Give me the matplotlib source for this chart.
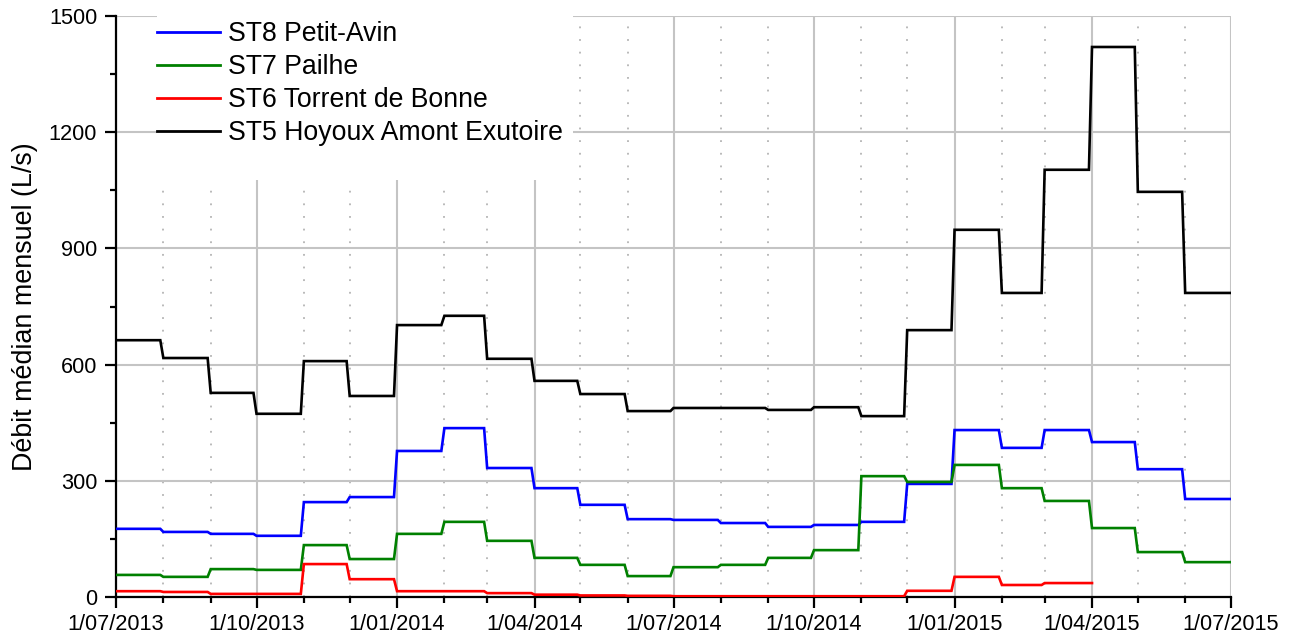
import numpy as np
import pandas as pd
import matplotlib
matplotlib.use("Agg")
import matplotlib.pyplot as plt
import matplotlib.dates as mdates
from matplotlib.patches import Rectangle
from matplotlib.ticker import MultipleLocator, FixedLocator

plt.rcParams["font.family"] = ["Liberation Sans", "DejaVu Sans"]

# ---------------------------------------------------------------
# Data: monthly median discharge (L/s), July 2013 -> June 2015
# ---------------------------------------------------------------
months = pd.date_range("2013-07-01", "2015-06-01", freq="MS")
end_date = pd.Timestamp("2015-07-01")

st8_petit_avin = [176, 168, 163, 158, 245, 258, 377, 436, 333, 281, 238, 201,
                  199, 191, 181, 186, 194, 292, 431, 385, 431, 400, 330, 253]
st7_pailhe = [57, 52, 72, 70, 134, 98, 163, 194, 145, 101, 83, 54,
              77, 83, 101, 121, 312, 297, 341, 281, 248, 178, 116, 90]
st6_torrent = [15, 13, 8, 8, 85, 46, 15, 15, 10, 6, 4, 3,
               2, 2, 2, 2, 2, 16, 52, 31, 36]
st5_hoyoux = [663, 617, 527, 473, 609, 519, 702, 726, 615, 558, 524, 480,
              488, 488, 483, 490, 467, 689, 948, 785, 1103, 1420, 1046, 785]

series = [
    ("ST8 Petit-Avin", st8_petit_avin, "#0000ff"),
    ("ST7 Pailhe", st7_pailhe, "#008000"),
    ("ST6 Torrent de Bonne", st6_torrent, "#ff0000"),
    ("ST5 Hoyoux Amont Exutoire", st5_hoyoux, "#000000"),
]

quarter_ticks = pd.date_range("2013-07-01", "2015-07-01", freq="3MS")
quarter_labels = ["1/07/2013", "1/10/2013", "1/01/2014", "1/04/2014", "1/07/2014",
                  "1/10/2014", "1/01/2015", "1/04/2015", "1/07/2015"]


def month_steps(values):
    """Each monthly value held from the 1st until just before the next month."""
    starts = list(months[:len(values)])
    bounds = starts + [starts[-1] + pd.offsets.MonthBegin(1)]
    xs, ys = [], []
    for i, v in enumerate(values):
        last = i == len(values) - 1
        xs += [bounds[i], bounds[i + 1] - pd.Timedelta(days=0 if last else 2)]
        ys += [v, v]
    return xs, ys


# ---------------------------------------------------------------
# Plot
# ---------------------------------------------------------------
fig = plt.figure(figsize=(12.98, 6.40), dpi=100, facecolor="white")
ax = fig.add_axes([116 / 1298, 1 - 597 / 640, 1115 / 1298, 581 / 640])

for label, vals, color in series:
    xs, ys = month_steps(vals)
    ax.plot(xs, ys, color=color, linewidth=1.9, label=label, zorder=3,
            solid_joinstyle="miter")

ax.set_xlim(months[0], end_date)
ax.set_ylim(0, 1500)

# x axis: quarterly major, monthly minor
ax.xaxis.set_major_locator(FixedLocator(mdates.date2num(quarter_ticks)))
ax.xaxis.set_minor_locator(mdates.MonthLocator())
ax.set_xticklabels(quarter_labels)
ax.yaxis.set_major_locator(MultipleLocator(300))
ax.yaxis.set_minor_locator(MultipleLocator(150))

ax.tick_params(axis="both", which="major", direction="out", length=8, width=1.6,
               labelsize=15.7, colors="black")
ax.tick_params(axis="x", which="major", pad=4.5)
ax.tick_params(axis="y", which="major", pad=5.5)
ax.tick_params(axis="both", which="minor", direction="out", length=4.5, width=1.6)

for side in ("top", "right"):
    ax.spines[side].set_visible(False)
for side in ("left", "bottom"):
    ax.spines[side].set_linewidth(1.6)

ax.grid(True, which="major", color="#c4c4c4", linewidth=1.5)
ax.grid(True, which="minor", axis="x", color="#b4b4b4", linewidth=1.3,
        linestyle=(0, (1, 6)))
ax.yaxis.get_gridlines()[-1].set_visible(False)
ax.set_axisbelow(True)

ax.set_ylabel("Débit médian mensuel (L/s)", fontsize=19.4, labelpad=8)

# white box behind the legend hides the grid there
legend_x0 = mdates.date2num(pd.Timestamp("2013-07-28"))
legend_x1 = mdates.date2num(pd.Timestamp("2014-04-26"))
ax.add_patch(Rectangle((legend_x0, 1077), legend_x1 - legend_x0, 423,
                       facecolor="white", edgecolor="none", zorder=1))

leg = ax.legend(loc="upper left", bbox_to_anchor=(36 / 1115, 1.0), borderaxespad=0,
                fontsize=19.2, frameon=False, handlelength=2.35,
                handletextpad=0.3, labelspacing=0.26, borderpad=0.19)
for line in leg.get_lines():
    line.set_linewidth(2.0)

fig.savefig("out.png", dpi=100)
